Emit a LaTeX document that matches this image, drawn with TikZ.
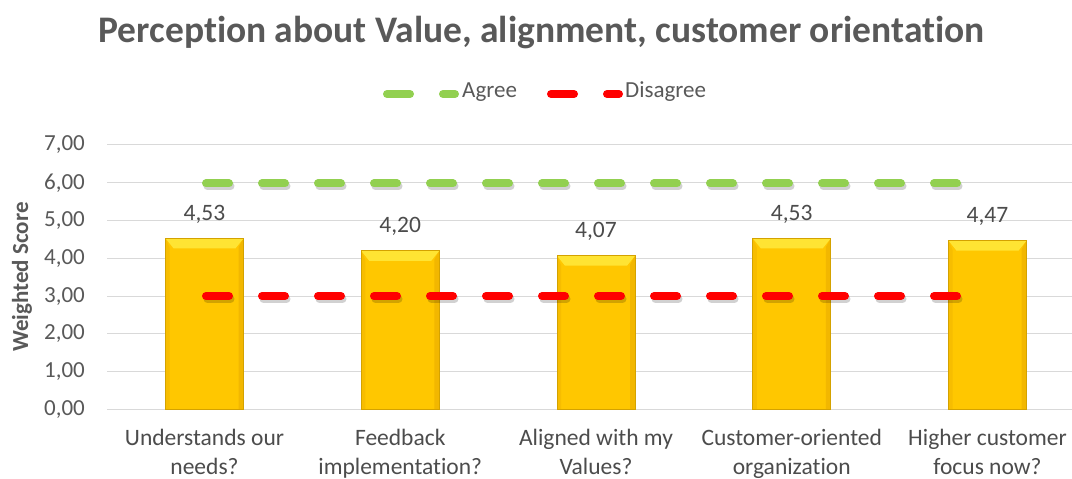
\documentclass[tikz,border=0pt]{standalone}
\usepackage{fontspec}
\setmainfont{Carlito}[Ligatures=NoCommon]
\definecolor{txt}{HTML}{595959}
\definecolor{grid}{HTML}{D9D9D9}
\definecolor{agree}{HTML}{92D050}
\definecolor{disagree}{HTML}{FF0000}
\definecolor{gold}{HTML}{FFC700}
\definecolor{goldtop}{HTML}{FFE433}
\definecolor{goldedge}{HTML}{D4A200}
\definecolor{goldside}{HTML}{F2B700}
\tikzset{
  gridline/.style={draw=grid, line width=1pt},
  ticklab/.style={anchor=east, inner sep=0pt, text=txt, font=\fontsize{23}{27}\selectfont},
  vallab/.style={anchor=base, inner sep=0pt, text=txt!85!black, font=\fontsize{23.5}{27}\selectfont},
  catlab/.style={anchor=north, inner sep=0pt, align=center, text=txt!85!black, font=\fontsize{23.5}{29}\selectfont},
  serie/.style={line width=8pt, line cap=round, dash pattern=on 23pt off 33pt},
  shadowline/.style={serie, draw=black, opacity=0.18},
  legtext/.style={anchor=west, inner sep=0pt, text=txt, font=\fontsize{23}{27}\selectfont},
}
\begin{document}
\begin{tikzpicture}[x=1pt, y=-1pt]
\useasboundingbox (0,0) rectangle (1072,479);
\fill[white] (0,0) rectangle (1072,479);
% title
\node[anchor=base, inner sep=0pt, text=txt, font=\fontsize{37.5}{42}\bfseries\selectfont] (title) at (541.5,42) {Perception about Value, alignment, customer orientation};
% legend
\coordinate (la1) at (387,94);
\coordinate (la2) at (455,94);
\coordinate (ld1) at (551,94);
\coordinate (ld2) at (619,94);
\draw[serie, agree] (la1) -- (la2);
\node[legtext] (lagree) at (462,92) {Agree};
\draw[serie, disagree] (ld1) -- (ld2);
\node[legtext] (ldis) at (625,92) {Disagree};
% grid and ticks
\foreach \k in {0,...,7}{
  \pgfmathsetmacro\gy{409.5-37.79*\k}
  \draw[gridline] (107,\gy) -- (1072,\gy);
  \node[ticklab] (tick\k) at (85,\gy) {\k,00};
}
% axis title
\node[rotate=90, inner sep=0pt, text=txt, font=\fontsize{23}{27}\bfseries\selectfont] (ytitle) at (22,277) {Weighted Score};
% bars
\foreach \i/\v/\lab/\la/\lb in {0/4.53/{4,53}/{Understands our}/{needs?},
                        1/4.20/{4,20}/{Feedback}/{implementation?},
                        2/4.07/{4,07}/{Aligned with my}/{Values?},
                        3/4.53/{4,53}/{Customer-oriented}/{organization},
                        4/4.47/{4,47}/{Higher customer}/{focus now?}}{
  \pgfmathsetmacro\cx{204.5+195.75*\i}
  \pgfmathsetmacro\ty{409.5-37.79*\v}
  \pgfmathsetmacro\xa{\cx-39}
  \pgfmathsetmacro\xb{\cx+39}
  \fill[gold] (\xa,\ty) rectangle (\xb,409.5);
  \fill[goldside] (\xb,\ty) -- (\xb,409.5) -- (\xb-5,409.5) -- (\xb-5,\ty+9) -- cycle;
  \fill[goldside!60!gold] (\xa,\ty) -- (\xa,409.5) -- (\xa+4,409.5) -- (\xa+4,\ty+9) -- cycle;
  \fill[goldtop] (\xa,\ty) -- (\xb,\ty) -- (\xb-8,\ty+10) -- (\xa+8,\ty+10) -- cycle;
  \draw[goldedge, line width=0.8pt] (\xa,\ty) rectangle (\xb,409.5);
  \node[vallab] (val\i) at (\cx,\ty-18) {\lab};
  \node[catlab] (cat\i) at (\cx,429) {\la\\\lb};
}
% series lines
\coordinate (a1) at (206,183.4);
\coordinate (a2) at (958,183.4);
\coordinate (d1) at (206,296.1);
\coordinate (d2) at (958,296.1);
\draw[shadowline] ([shift={(1.5,3)}]a1) -- ([shift={(1.5,3)}]a2);
\draw[shadowline] ([shift={(1.5,3)}]d1) -- ([shift={(1.5,3)}]d2);
\draw[serie, agree] (a1) -- (a2);
\draw[serie, disagree] (d1) -- (d2);
\end{tikzpicture}
\end{document}
